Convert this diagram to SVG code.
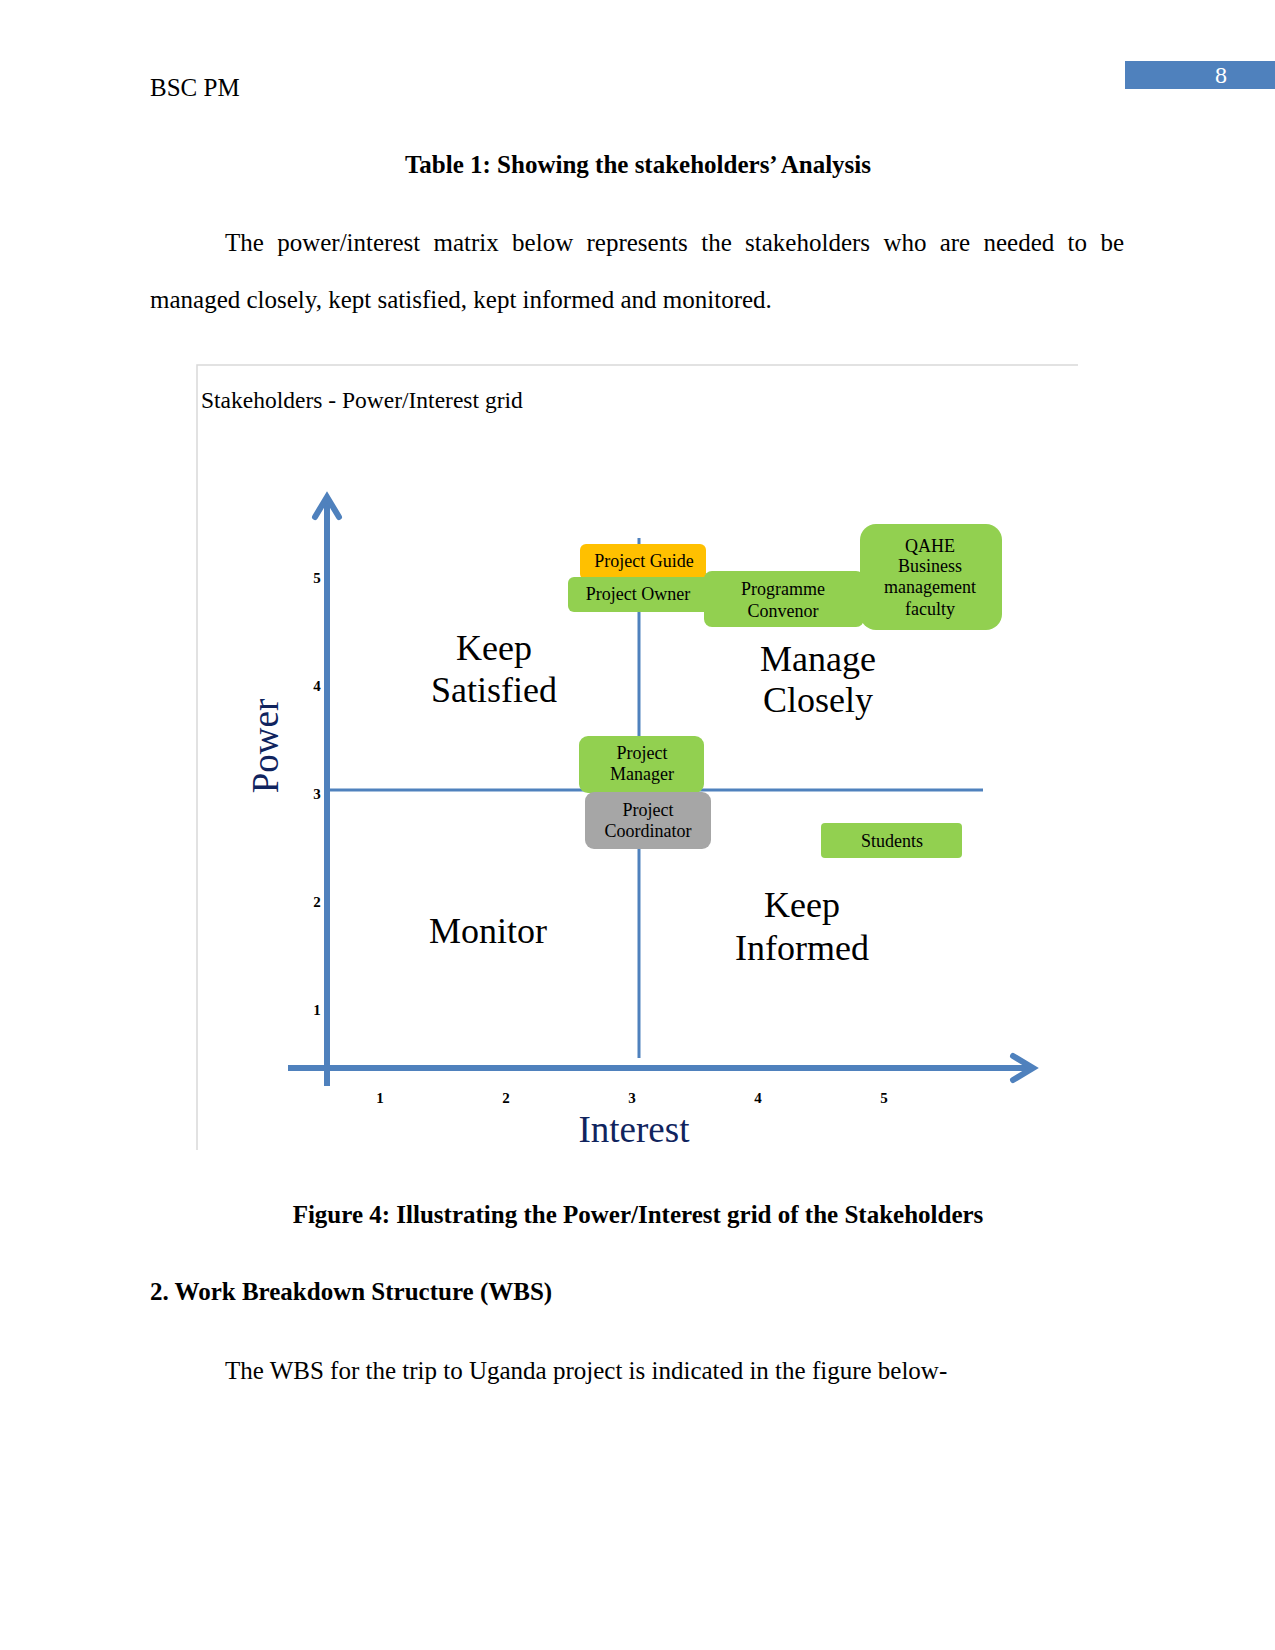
<svg xmlns="http://www.w3.org/2000/svg" width="1275" height="1650" viewBox="0 0 1275 1650">
<style>
  .body { font-family: "Liberation Serif", "Times New Roman", serif; font-size: 25px; fill: #000; }
  .bold { font-weight: bold; }
  .lbl { font-family: "Liberation Serif", "Times New Roman", serif; font-size: 18px; fill: #000; text-anchor: middle; }
  .quad { font-family: "Liberation Serif", "Times New Roman", serif; font-size: 36px; fill: #000; text-anchor: middle; }
  .tick { font-family: "Liberation Serif", "Times New Roman", serif; font-size: 15px; font-weight: bold; fill: #000; text-anchor: middle; }
  .axis-title { font-family: "Liberation Serif", "Times New Roman", serif; font-size: 37px; fill: #10245E; text-anchor: middle; }
  .axis { stroke: #4F81BD; stroke-width: 6; fill: none; stroke-linecap: butt; }
  .arrow { stroke: #4F81BD; stroke-width: 6; fill: none; stroke-linecap: round; stroke-linejoin: miter; }
  .mid { stroke: #4F81BD; stroke-width: 3; fill: none; }
  .green { fill: #92D050; }
  .orange { fill: #FFC000; }
  .gray { fill: #A6A6A6; }
</style>
<rect x="0" y="0" width="1275" height="1650" fill="#FFFFFF"/>

<!-- Header -->
<text class="body" x="150" y="96">BSC PM</text>
<rect x="1125" y="61" width="150" height="28" fill="#4F81BD"/>
<text x="1221" y="83" font-family="Liberation Serif, serif" font-size="24" fill="#FFFFFF" text-anchor="middle">8</text>

<text class="body bold" x="638" y="173" text-anchor="middle">Table 1: Showing the stakeholders’ Analysis</text>

<text class="body" y="251"><tspan x="225">The</tspan><tspan x="277.2">power/interest</tspan><tspan x="433.5">matrix</tspan><tspan x="512.1">below</tspan><tspan x="586.5">represents</tspan><tspan x="701.2">the</tspan><tspan x="745.1">stakeholders</tspan><tspan x="883.4">who</tspan><tspan x="939.7">are</tspan><tspan x="983.5">needed</tspan><tspan x="1067.6">to</tspan><tspan x="1100.4">be</tspan></text>
<text class="body" x="150" y="308">managed closely, kept satisfied, kept informed and monitored.</text>

<!-- Chart frame -->
<path d="M197,1150 V365 H1078" stroke="#D9D9D9" stroke-width="1.5" fill="none"/>
<text x="201" y="408" font-family="Liberation Serif, serif" font-size="23.5" fill="#000">Stakeholders - Power/Interest grid</text>

<!-- Connectors / axes -->
<g id="connectors">
  <line class="mid" x1="639" y1="538" x2="639" y2="1058"/>
  <line class="mid" x1="327" y1="790" x2="983" y2="790"/>
  <line class="axis" x1="327" y1="499" x2="327" y2="1086"/>
  <line class="axis" x1="288" y1="1068" x2="1031" y2="1068"/>
  <polyline class="arrow" points="315,517 327,497 339,517"/>
  <polyline class="arrow" points="1013,1056 1033,1068 1013,1080"/>
</g>

<!-- Ticks -->
<g id="ticks">
  <text class="tick" x="317" y="583">5</text>
  <text class="tick" x="317" y="691">4</text>
  <text class="tick" x="317" y="799">3</text>
  <text class="tick" x="317" y="907">2</text>
  <text class="tick" x="317" y="1015">1</text>
  <text class="tick" x="380" y="1103">1</text>
  <text class="tick" x="506" y="1103">2</text>
  <text class="tick" x="632" y="1103">3</text>
  <text class="tick" x="758" y="1103">4</text>
  <text class="tick" x="884" y="1103">5</text>
</g>

<text class="axis-title" x="634" y="1142">Interest</text>
<text class="axis-title" x="0" y="0" transform="translate(278,746) rotate(-90)">Power</text>

<!-- Quadrant labels -->
<g id="keep-satisfied"><text class="quad" x="494" y="660">Keep</text><text class="quad" x="494" y="702">Satisfied</text></g>
<g id="manage-closely"><text class="quad" x="818" y="671">Manage</text><text class="quad" x="818" y="712">Closely</text></g>
<g id="monitor"><text class="quad" x="488" y="943">Monitor</text></g>
<g id="keep-informed"><text class="quad" x="802" y="917">Keep</text><text class="quad" x="802" y="960">Informed</text></g>

<!-- Stakeholder nodes -->
<g id="project-guide">
  <rect class="orange" x="580" y="544" width="126" height="36" rx="6"/>
  <text class="lbl" x="644" y="567">Project Guide</text>
</g>
<g id="project-owner">
  <rect class="green" x="568" y="577" width="142" height="35" rx="6"/>
  <text class="lbl" x="638" y="600">Project Owner</text>
</g>
<g id="programme-convenor">
  <rect class="green" x="704" y="571" width="160" height="56" rx="8"/>
  <text class="lbl" x="783" y="595">Programme</text>
  <text class="lbl" x="783" y="617">Convenor</text>
</g>
<g id="qahe">
  <rect class="green" x="860" y="524" width="142" height="106" rx="16"/>
  <text class="lbl" x="930" y="552">QAHE</text>
  <text class="lbl" x="930" y="572">Business</text>
  <text class="lbl" x="930" y="593">management</text>
  <text class="lbl" x="930" y="615">faculty</text>
</g>
<g id="project-manager">
  <rect class="green" x="579" y="736" width="125" height="57" rx="9"/>
  <text class="lbl" x="642" y="759">Project</text>
  <text class="lbl" x="642" y="780">Manager</text>
</g>
<g id="project-coordinator">
  <rect class="gray" x="585" y="792" width="126" height="57" rx="9"/>
  <text class="lbl" x="648" y="816">Project</text>
  <text class="lbl" x="648" y="837">Coordinator</text>
</g>
<g id="students">
  <rect class="green" x="821" y="823" width="141" height="35" rx="4"/>
  <text class="lbl" x="892" y="847">Students</text>
</g>

<!-- Below figure -->
<text class="body bold" x="638" y="1223" text-anchor="middle">Figure 4: Illustrating the Power/Interest grid of the Stakeholders</text>
<text class="body bold" x="150" y="1300">2. Work Breakdown Structure (WBS)</text>
<text class="body" x="225" y="1379">The WBS for the trip to Uganda project is indicated in the figure below-</text>
</svg>
